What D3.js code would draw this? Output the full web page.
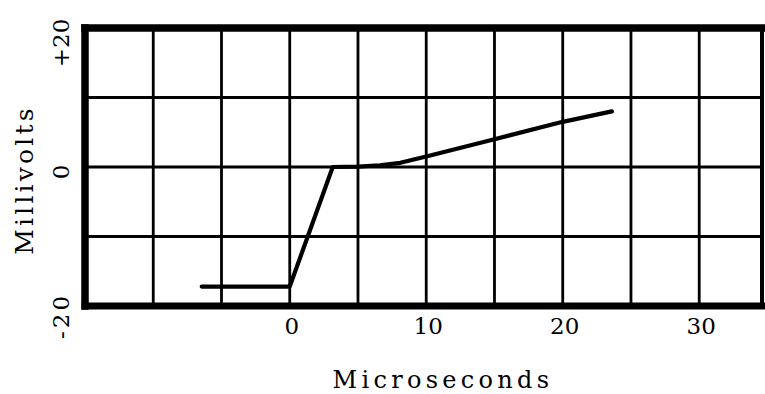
<!DOCTYPE html>
<html>
<head>
<meta charset="utf-8">
<script src="https://cdn.jsdelivr.net/npm/d3@7"></script>
<style>
	body { margin: 0; background: #fff; }
	svg { display: block; }
	.tick-label, .axis-title { font-family: 'DejaVu Serif', serif; fill: #000; }
</style>
</head>
<body>
<div id="viz"></div>
<script>
var w = 765,
	h = 394;

// trace
var time_us = [-6.45, 0, 3.15, 5, 6.6, 8.1, 10, 15, 20, 23.6];
var millivolts = [-17.2, -17.2, 0, 0.05, 0.25, 0.6, 1.5, 4.0, 6.5, 8.0];

var x_ticks = [0, 10, 20, 30],
	y_ticks = [20, 0, -20],
	y_tick_text = ['+20', '0', '-20'],
	x_grid = [-10, -5, 0, 5, 10, 15, 20, 25, 30],
	y_grid = [-10, 0, 10];

var x_min = -15, x_max = 34.6,
	y_min = -20, y_max = 20;

var x = d3.scaleLinear().domain([x_min, x_max]).range([85, 762]);
var y = d3.scaleLinear().domain([y_min, y_max]).range([306, 28]);

var viz = d3.select('#viz').append('svg:svg')
	.attr('width', w)
	.attr('height', h)
	.attr('viewBox', '0 0 ' + w + ' ' + h);

//GRID
viz.selectAll('.vgrid')
	.data(x_grid)
	.enter().append('svg:line')
		.attr('class', 'vgrid')
		.attr('x1', function(d){ return x(d); })
		.attr('x2', function(d){ return x(d); })
		.attr('y1', y(y_min))
		.attr('y2', y(y_max))
		.attr('stroke', '#000')
		.attr('stroke-width', 2.8);

viz.selectAll('.hgrid')
	.data(y_grid)
	.enter().append('svg:line')
		.attr('class', 'hgrid')
		.attr('x1', x(x_min))
		.attr('x2', x(x_max))
		.attr('y1', function(d){ return y(d); })
		.attr('y2', function(d){ return y(d); })
		.attr('stroke', '#000')
		.attr('stroke-width', 2.8);

//FRAME (right edge is thinner in the original)
var frame = [
	{x1: x_min, y1: y_max, x2: x_max, y2: y_max, sw: 7.5},
	{x1: x_min, y1: y_min, x2: x_max, y2: y_min, sw: 7},
	{x1: x_min, y1: y_min, x2: x_min, y2: y_max, sw: 7.5},
	{x1: x_max, y1: y_min, x2: x_max, y2: y_max, sw: 4}
];
viz.selectAll('.frame')
	.data(frame)
	.enter().append('svg:line')
		.attr('class', 'frame')
		.attr('x1', function(d){ return x(d.x1); })
		.attr('x2', function(d){ return x(d.x2); })
		.attr('y1', function(d){ return y(d.y1); })
		.attr('y2', function(d){ return y(d.y2); })
		.attr('stroke', '#000')
		.attr('stroke-width', function(d){ return d.sw; })
		.attr('stroke-linecap', 'square');

//TRACE
var trace = d3.line()
	.x(function(d, i){ return x(time_us[i]); })
	.y(function(d){ return y(d); });

viz.append('svg:path')
	.attr('class', 'trace')
	.attr('d', trace(millivolts))
	.attr('fill', 'none')
	.attr('stroke', '#000')
	.attr('stroke-width', 4.2)
	.attr('stroke-linejoin', 'round')
	.attr('stroke-linecap', 'round');

//TICK LABELS
viz.selectAll('.xlabel')
	.data(x_ticks)
	.enter().append('svg:text')
		.attr('class', 'tick-label xlabel')
		.attr('x', function(d){ return x(d) + 2; })
		.attr('y', 334)
		.style('font-size', '23px')
		.style('text-anchor', 'middle')
		.text(function(d){ return d; });

viz.selectAll('.ylabel')
	.data(y_ticks)
	.enter().append('svg:text')
		.attr('class', 'tick-label ylabel')
		.attr('transform', function(d){
			var off = d === 20 ? 15 : (d === 0 ? 5 : 10);
			return 'translate(69,' + (y(d) + off) + ') rotate(-90)';
		})
		.style('font-size', '23px')
		.style('letter-spacing', function(d){ return d < 0 ? '3px' : '0px'; })
		.style('text-anchor', 'middle')
		.text(function(d, i){ return y_tick_text[i]; });

//AXIS TITLES
viz.append('svg:text')
	.attr('class', 'axis-title')
	.attr('x', 443)
	.attr('y', 388)
	.style('font-size', '24px')
	.style('letter-spacing', '4.3px')
	.style('text-anchor', 'middle')
	.text('Microseconds');

viz.append('svg:text')
	.attr('class', 'axis-title')
	.attr('transform', 'translate(33,180) rotate(-90)')
	.style('font-size', '25px')
	.style('letter-spacing', '3.2px')
	.style('text-anchor', 'middle')
	.text('Millivolts');
</script>
</body>
</html>
